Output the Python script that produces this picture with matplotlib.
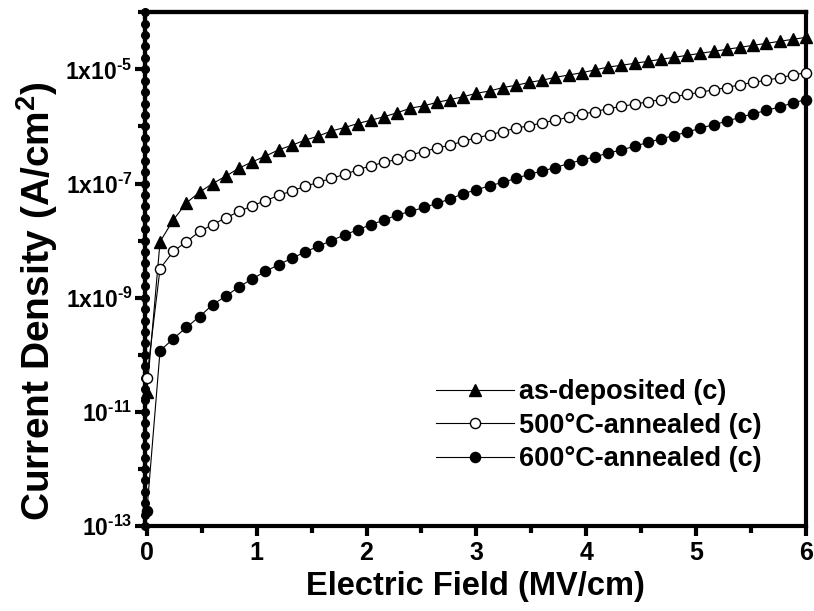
import numpy as np
import matplotlib
matplotlib.use('Agg')
import matplotlib.pyplot as plt
from matplotlib.ticker import FixedLocator, FixedFormatter

plt.rcParams['font.family'] = ['Liberation Sans', 'DejaVu Sans']
plt.rcParams['font.weight'] = 'bold'
plt.rcParams['mathtext.fontset'] = 'custom'
plt.rcParams['mathtext.rm'] = 'Liberation Sans:bold'
plt.rcParams['mathtext.it'] = 'Liberation Sans:bold'
plt.rcParams['mathtext.bf'] = 'Liberation Sans:bold'

# electric field (MV/cm), same for all three curves
field = [0.00, 0.12, 0.24, 0.36, 0.48, 0.60, 0.72, 0.84, 0.96, 1.08,
         1.20, 1.32, 1.44, 1.56, 1.68, 1.80, 1.92, 2.04, 2.16, 2.28,
         2.40, 2.52, 2.64, 2.76, 2.88, 3.00, 3.12, 3.24, 3.36, 3.48,
         3.60, 3.72, 3.84, 3.96, 4.08, 4.20, 4.32, 4.44, 4.56, 4.68,
         4.80, 4.92, 5.04, 5.16, 5.28, 5.40, 5.52, 5.64, 5.76, 5.88, 6.00]

# log10 of current density (A/cm2)
log_asdep = [-10.66, -8.02, -7.64, -7.34, -7.15, -7.00, -6.87, -6.73, -6.62, -6.52,
             -6.41, -6.33, -6.24, -6.17, -6.08, -6.02, -5.95, -5.89, -5.83, -5.76,
             -5.68, -5.64, -5.58, -5.53, -5.48, -5.42, -5.38, -5.32, -5.28, -5.23,
             -5.19, -5.14, -5.10, -5.06, -5.01, -4.96, -4.93, -4.895, -4.86, -4.825,
             -4.79, -4.755, -4.72, -4.685, -4.65, -4.615, -4.58, -4.545, -4.51, -4.475, -4.44]

log_500 = [-10.40, -8.49, -8.19, -8.02, -7.84, -7.72, -7.60, -7.49, -7.39, -7.30,
           -7.21, -7.13, -7.05, -6.98, -6.91, -6.84, -6.76, -6.69, -6.63, -6.575,
           -6.50, -6.44, -6.38, -6.33, -6.26, -6.20, -6.15, -6.09, -6.03, -5.99,
           -5.94, -5.89, -5.84, -5.79, -5.74, -5.69, -5.65, -5.61, -5.57, -5.53,
           -5.48, -5.44, -5.40, -5.36, -5.32, -5.27, -5.23, -5.19, -5.15, -5.10, -5.06]

log_600 = [-12.74, -9.93, -9.72, -9.52, -9.33, -9.12, -8.97, -8.81, -8.67, -8.54,
           -8.42, -8.31, -8.20, -8.10, -8.00, -7.90, -7.81, -7.72, -7.64, -7.55,
           -7.49, -7.42, -7.35, -7.27, -7.18, -7.11, -7.04, -6.98, -6.91, -6.84,
           -6.78, -6.72, -6.65, -6.59, -6.53, -6.47, -6.41, -6.35, -6.28, -6.22,
           -6.16, -6.10, -6.03, -5.97, -5.91, -5.84, -5.78, -5.72, -5.66, -5.59, -5.53]

# dense low-field points piled up on the left axis
log_zero_pile = [-13.0, -12.8, -12.6, -12.4, -12.2, -12.0, -11.8, -11.6, -11.4, -11.2,
                 -11.0, -10.8, -10.6, -10.4, -10.2, -10.0, -9.8, -9.6, -9.4, -9.2,
                 -9.0, -8.8, -8.6, -8.4, -8.2, -8.0, -7.8, -7.6, -7.4, -7.2,
                 -7.0, -6.8, -6.6, -6.4, -6.2, -6.0, -5.8, -5.6, -5.4, -5.2,
                 -5.0, -4.8, -4.6, -4.4, -4.2, -4.0]

labels = ['as-deposited (c)', '500°C-annealed (c)', '600°C-annealed (c)']
ytick_vals = [1e-13, 1e-11, 1e-9, 1e-7, 1e-5]
ytick_text = ['$10^{‐13}$', '$10^{‐11}$', '$1x10^{‐9}$', '$1x10^{‐7}$', '$1x10^{‐5}$']

fig = plt.figure(figsize=(8.14, 6.11), dpi=100)
ax = fig.add_axes([0.178, 0.139, 0.812, 0.841])

x = np.array(field)
ax.plot(np.zeros(len(log_zero_pile)) - 0.014, 10 ** np.array(log_zero_pile), '-o', color='k',
        ms=5.5, lw=3, clip_on=False, zorder=4)
ax.plot(x, 10 ** np.array(log_asdep), '-^', color='k', mfc='k', ms=8.5, lw=0.8,
        label=labels[0], clip_on=False, zorder=5)
ax.plot(x, 10 ** np.array(log_500), '-o', color='k', mfc='white', mec='k', mew=1.0, ms=7.3, lw=0.8,
        label=labels[1], clip_on=False, zorder=5)
ax.plot(x, 10 ** np.array(log_600), '-o', color='k', mfc='k', ms=7.3, lw=0.8,
        label=labels[2], clip_on=False, zorder=5)

ax.set_yscale('log')
ax.set_xlim(-0.018, 6.0)
ax.set_ylim(1e-13, 1e-4)

ax.xaxis.set_major_locator(FixedLocator([0, 1, 2, 3, 4, 5, 6]))
ax.xaxis.set_minor_locator(FixedLocator([0.5, 1.5, 2.5, 3.5, 4.5, 5.5]))
ax.yaxis.set_major_locator(FixedLocator(ytick_vals))
ax.yaxis.set_major_formatter(FixedFormatter(ytick_text))
ax.yaxis.set_minor_locator(FixedLocator([1e-12, 1e-10, 1e-8, 1e-6, 1e-4]))
ax.yaxis.set_minor_formatter(FixedFormatter([]))

for s in ax.spines.values():
    s.set_linewidth(3)
ax.tick_params(which='major', direction='out', length=7, width=3, labelsize=16.5, pad=2)
ax.tick_params(which='minor', direction='out', length=5, width=3)
ax.tick_params(axis='x', which='both', labelsize=18, pad=4)

# small bumps on the top frame, like the original
top = ax.secondary_xaxis('top')
top.xaxis.set_major_locator(FixedLocator([0, 1, 2, 3, 4, 5, 6]))
top.xaxis.set_minor_locator(FixedLocator([0.5, 1.5, 2.5, 3.5, 4.5, 5.5]))
top.tick_params(which='both', direction='inout', length=3, width=3, labeltop=False)
top.spines['top'].set_linewidth(3)

ax.set_xlabel('Electric Field (MV/cm)', fontsize=23.5, fontweight='bold')
ax.set_ylabel(r'Current Density (A/cm$^2$)', fontsize=28, fontweight='bold')
ax.xaxis.set_label_coords(0.5, -0.088)
ax.yaxis.set_label_coords(-0.129, 0.438)

leg = ax.legend(loc='upper left', bbox_to_anchor=(0.44, 0.286), frameon=False, fontsize=19.5,
                handlelength=2.9, handletextpad=0.18, labelspacing=0.28, borderpad=0,
                borderaxespad=0)

fig.savefig('out.png', dpi=100)
